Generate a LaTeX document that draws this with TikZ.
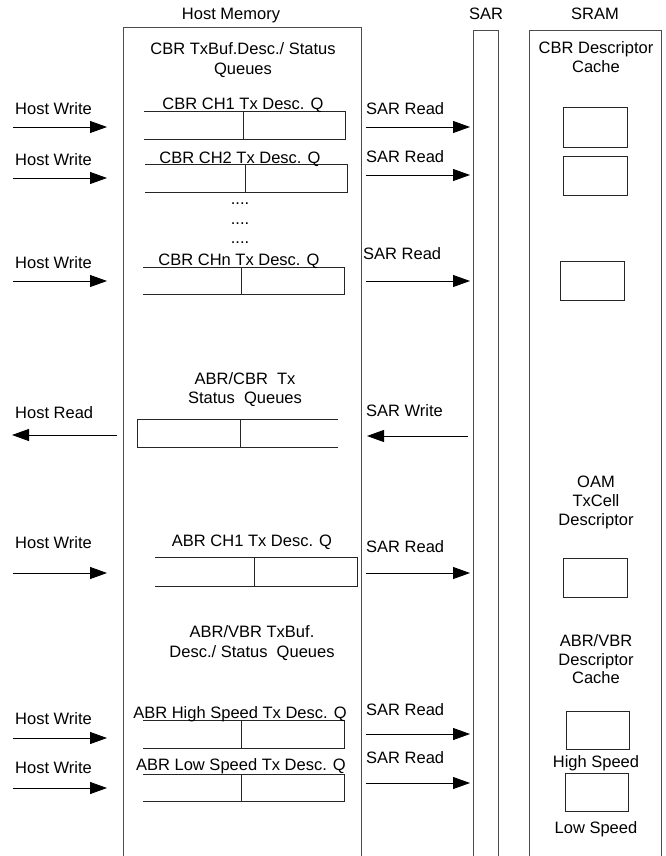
\documentclass[tikz,border=0pt]{standalone}
\usepackage{fontspec}
\setmainfont{Liberation Sans}
\usetikzlibrary{arrows.meta}
\begin{document}
\begin{tikzpicture}[x=1pt,y=-1pt,
  lbl/.style={font=\fontsize{16.5}{20}\selectfont, inner sep=0pt, anchor=base},
  lbll/.style={lbl, anchor=base west},
  frame/.style={draw=black!70, line width=1pt},
  qline/.style={draw=black!85, line width=1pt},
  arr/.style={draw, line width=0.9pt, -{Triangle[length=17pt,width=12pt]}}]
\useasboundingbox (0,0) rectangle (666,856);
% frames
\draw[frame] (123,862) -- (123,28) -- (361,28) -- (361,862);
\draw[frame] (473,862) -- (473,31) -- (498,31) -- (498,862);
\draw[frame] (529,862) -- (529,31) -- (661,31) -- (661,862);
\node[lbl] (hm) at (231,20) {Host Memory};
\node[lbl] (sar) at (486,20) {SAR};
\node[lbl] (sram) at (595,20) {SRAM};
% headings
\node[lbl] (h1a) at (243,55) {CBR TxBuf.Desc./ Status};
\node[lbl] (h1b) at (243,75) {Queues};
\node[lbl] (c1a) at (596,54) {CBR Descriptor};
\node[lbl] (c1b) at (596,73) {Cache};
% queues {xL, xB, xR, yT, yB}
\foreach \xl/\xb/\xr/\yt/\yb in {144/243/345/112/139, 145/245/347/164/192, 143/241/344/267/294, 155/254/357/557/586, 143/241/344/720/748, 143/241/344/774/801}{
  \draw[qline] (\xl,\yt) -- (\xr,\yt);
  \draw[qline] (\xl,\yb) -- (\xr,\yb);
  \draw[qline] (\xb,\yt) rectangle (\xr,\yb);
}
% status queue
\draw[qline] (137,419) rectangle (240,447);
\draw[qline] (240,419) -- (338,419);
\draw[qline] (240,447) -- (338,447);
% queue labels
\node[lbl] (q1) at (243,110) {CBR CH1 Tx Desc. Q};
\node[lbl] (q2) at (240,163) {CBR CH2 Tx Desc. Q};
\node[lbl] (d1) at (240,204) {....};
\node[lbl] (d2) at (240,224) {....};
\node[lbl] (d3) at (240,243) {....};
\node[lbl] (qn) at (239,265) {CBR CHn Tx Desc. Q};
\node[lbl] (st1) at (245,384) {ABR/CBR\ \ Tx};
\node[lbl] (st2) at (245,403) {Status\ \ Queues};
\node[lbl] (qa) at (252,546) {ABR CH1 Tx Desc. Q};
\node[lbl] (av1) at (252,637) {ABR/VBR TxBuf.};
\node[lbl] (av2) at (252,657) {Desc./ Status\ \ Queues};
\node[lbl] (qh) at (240,718) {ABR High Speed Tx Desc. Q};
\node[lbl] (ql) at (241,770) {ABR Low Speed Tx Desc. Q};
% SRAM contents
\draw[qline] (563,108) rectangle (627,147);
\draw[qline] (563,156) rectangle (627,195);
\draw[qline] (560,261) rectangle (624,300);
\node[lbl] (o1) at (596,487) {OAM};
\node[lbl] (o2) at (596,506) {TxCell};
\node[lbl] (o3) at (596,525) {Descriptor};
\draw[qline] (563,558) rectangle (627,597);
\node[lbl] (a1) at (596,646) {ABR/VBR};
\node[lbl] (a2) at (596,665) {Descriptor};
\node[lbl] (a3) at (596,683) {Cache};
\draw[qline] (566,711) rectangle (629,749);
\node[lbl] (hs) at (596,767) {High Speed};
\draw[qline] (565,773) rectangle (628,811);
\node[lbl] (ls) at (596,833) {Low Speed};
% host write arrows
\foreach \y/\b [count=\i] in {127/114, 178/165, 281/268, 573/548, 738/724, 788/773}{
  \coordinate (hws\i) at (13,\y);
  \coordinate (hwe\i) at (107,\y);
  \draw[arr] (hws\i) -- (hwe\i);
  \node[lbll] (hwl\i) at (15,\b) {Host Write};
}
% SAR read arrows
\foreach \y/\b/\lx [count=\i] in {127/115/366, 175/162/366, 281/259/363, 573/552/366, 734/715/366, 783/763/366}{
  \coordinate (srs\i) at (366,\y);
  \coordinate (sre\i) at (470,\y);
  \draw[arr] (srs\i) -- (sre\i);
  \node[lbll] (srl\i) at (\lx,\b) {SAR Read};
}
% host read / SAR write
\coordinate (hrs) at (117,435);
\coordinate (hre) at (12,435);
\draw[arr] (hrs) -- (hre);
\node[lbll] (hrl) at (15,418) {Host Read};
\coordinate (sws) at (468,436);
\coordinate (swe) at (367,436);
\draw[arr] (sws) -- (swe);
\node[lbll] (swl) at (366,416) {SAR Write};
\end{tikzpicture}
\end{document}
